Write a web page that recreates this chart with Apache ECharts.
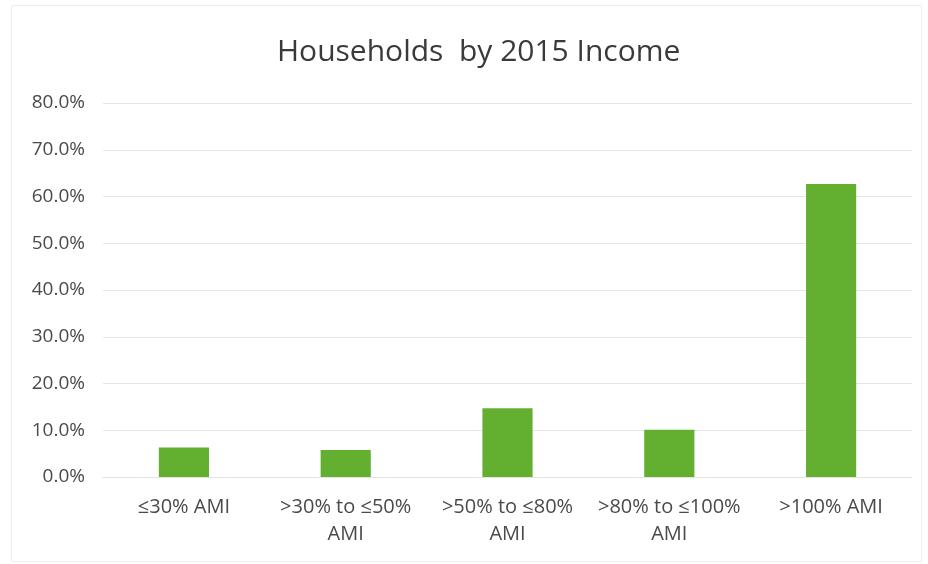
<!DOCTYPE html>
<html>
<head>
<meta charset="utf-8">
<script src="https://cdn.jsdelivr.net/npm/echarts@6/dist/echarts.min.js"></script>
<style>
  html, body { margin: 0; padding: 0; background: #fff; }
  #chart { width: 928px; height: 564px; }
</style>
</head>
<body>
<div id="chart"></div>
<script>
// Income bands (area median income) and share of households in each
const categories = ['≤30% AMI', '>30% to ≤50%\nAMI', '>50% to ≤80%\nAMI', '>80% to ≤100%\nAMI', '>100% AMI'];
const shares = [6.3, 5.8, 14.7, 10.1, 62.7];
const yTicks = [0, 10, 20, 30, 40, 50, 60, 70, 80];

const chart = echarts.init(document.getElementById('chart'), null, { renderer: 'canvas' });

chart.setOption({
  backgroundColor: '#ffffff',
  animation: false,
  graphic: [{
    type: 'rect',
    shape: { x: 11.5, y: 5.5, width: 910, height: 556 },
    style: { fill: 'none', stroke: '#eeeeee', lineWidth: 1 },
    silent: true
  }],
  title: {
    text: 'Households  by 2015 Income',
    left: 272,
    top: 32,
    textStyle: {
      fontFamily: 'Open Sans',
      fontSize: 30,
      fontWeight: 'normal',
      color: '#3a3a3a'
    }
  },
  grid: { left: 103, right: 16, top: 103, bottom: 87, containLabel: false },
  xAxis: {
    type: 'category',
    data: categories,
    axisTick: { show: false },
    axisLine: { show: true, lineStyle: { color: '#e3e3e3', width: 1 } },
    axisLabel: {
      interval: 0,
      margin: 17,
      fontFamily: 'Open Sans',
      fontSize: 20,
      lineHeight: 27,
      color: '#4a4a4a'
    }
  },
  yAxis: {
    type: 'value',
    min: yTicks[0],
    max: yTicks[yTicks.length - 1],
    interval: 10,
    axisLine: { show: false },
    axisTick: { show: false },
    splitLine: { lineStyle: { color: '#e6e6e6', width: 1 } },
    axisLabel: {
      margin: 18,
      fontFamily: 'Open Sans',
      fontSize: 19,
      color: '#4a4a4a',
      formatter: v => v.toFixed(1) + '%'
    }
  },
  series: [{
    type: 'bar',
    data: shares,
    barWidth: '31%',
    itemStyle: { color: '#63b030' }
  }]
});
</script>
</body>
</html>
